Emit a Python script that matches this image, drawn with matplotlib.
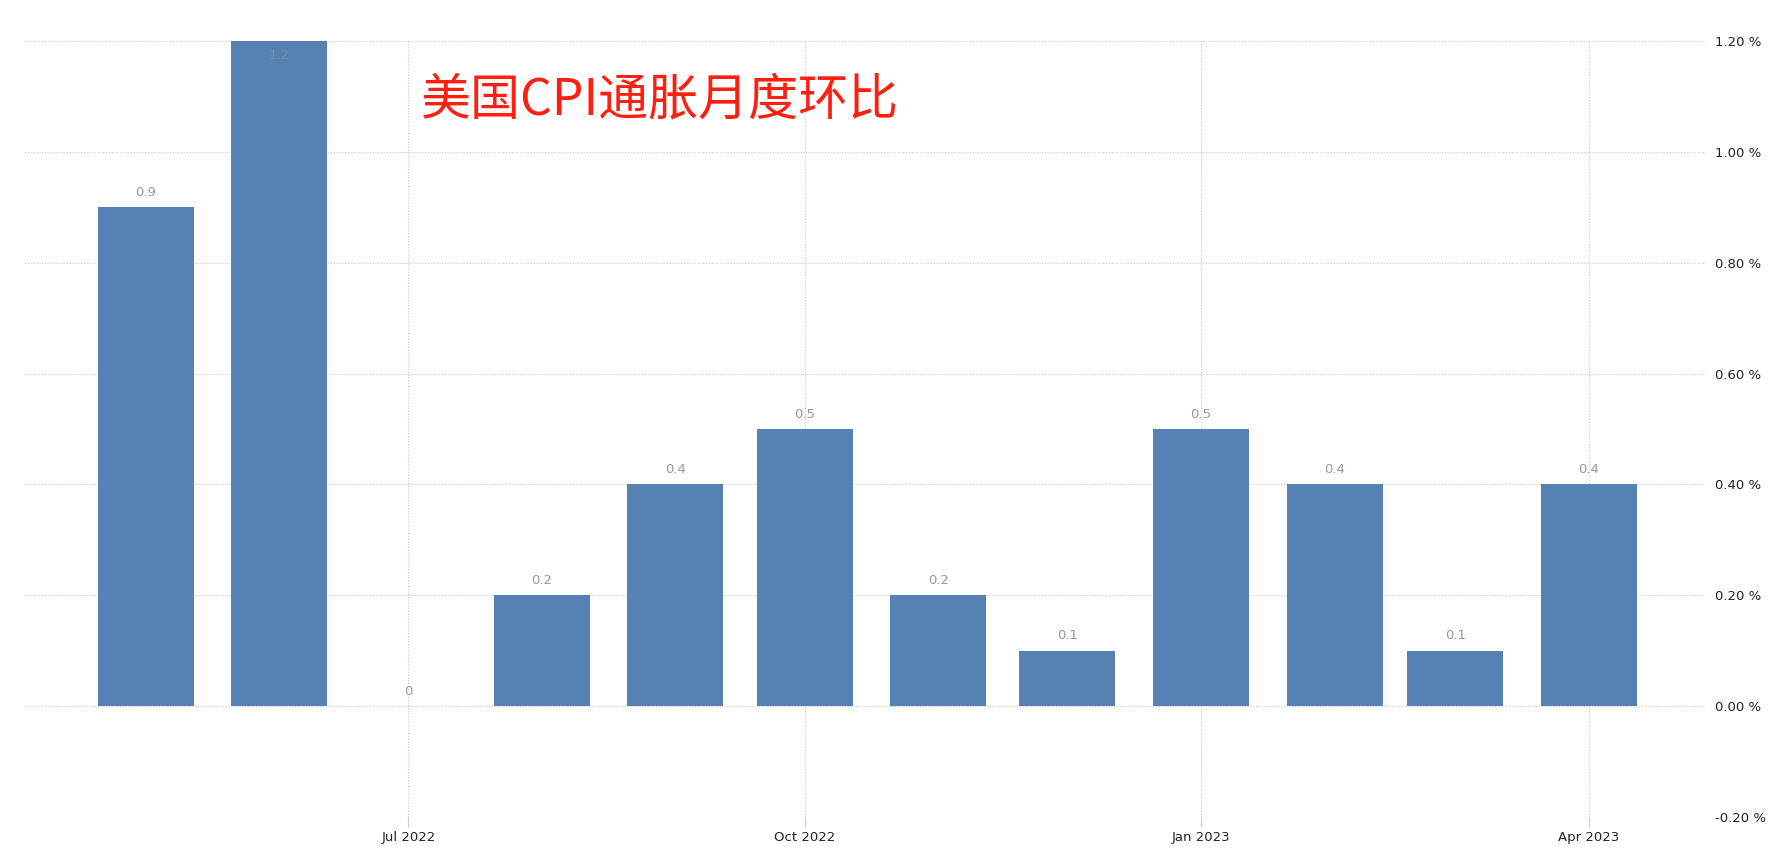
import datetime as dt
import matplotlib
matplotlib.use('Agg')
import matplotlib.pyplot as plt
import matplotlib.dates as mdates
from matplotlib.ticker import FuncFormatter

plt.rcParams['font.family'] = ['DejaVu Sans']

# US CPI month-over-month, %
months = ['2022-05', '2022-06', '2022-07', '2022-08', '2022-09', '2022-10',
          '2022-11', '2022-12', '2023-01', '2023-02', '2023-03', '2023-04']
values = [0.9, 1.2, 0.0, 0.2, 0.4, 0.5, 0.2, 0.1, 0.5, 0.4, 0.1, 0.4]
tick_months = ['2022-07', '2022-10', '2023-01', '2023-04']
title = '美国CPI通胀月度环比'

dates = [dt.datetime.strptime(m, '%Y-%m') for m in months]
tick_dates = [dt.datetime.strptime(m, '%Y-%m') for m in tick_months]

fig = plt.figure(figsize=(17.76, 8.67), dpi=100)
ax = fig.add_axes([25 / 1776, 1 - 817 / 867, 1680 / 1776, 776 / 867])

bar_color = '#5581b3'
ax.bar(dates, values, width=22.3, color=bar_color, linewidth=0, zorder=3)

ymin, ymax = -0.2, 1.2
ax.set_ylim(ymin, ymax)
ax.set_xlim(dt.datetime(2022, 4, 3), dt.datetime(2023, 4, 28))

# value labels
for d, v in zip(dates, values):
    label = ('%g' % v)
    if v >= ymax:
        # clipped bar: label goes inside the top
        ax.annotate(label, (d, ymax), xytext=(0, -6), textcoords='offset points',
                    ha='center', va='top', fontsize=9.5, color='#7f8a99', zorder=4)
    else:
        ax.annotate(label, (d, v), xytext=(0, 6), textcoords='offset points',
                    ha='center', va='bottom', fontsize=9.5, color='#999999', zorder=4)

# axes styling
ax.yaxis.tick_right()
ax.set_yticks([-0.2, 0.0, 0.2, 0.4, 0.6, 0.8, 1.0, 1.2])
ax.yaxis.set_major_formatter(FuncFormatter(lambda y, p: '%.2f %%' % y))
ax.tick_params(axis='y', length=0, pad=7, labelsize=9.5, labelcolor='#222222')

ax.set_xticks(tick_dates)
ax.xaxis.set_major_formatter(mdates.DateFormatter('%b %Y'))
ax.tick_params(axis='x', length=7, width=0.8, color='#cccccc', pad=3,
               labelsize=9.5, labelcolor='#222222')

ax.grid(True, axis='both', color='#c8c8c8', linestyle=(0, (1, 1.5)), linewidth=0.8, zorder=0)
ax.set_axisbelow(True)
for s in ax.spines.values():
    s.set_visible(False)

fig.text(421 / 1776, 1 - 100 / 867, title, fontsize=36, color='#ff1f10',
         family=['Noto Sans CJK SC', 'DejaVu Sans'], va='center', ha='left')

fig.savefig('out.png', dpi=100)
